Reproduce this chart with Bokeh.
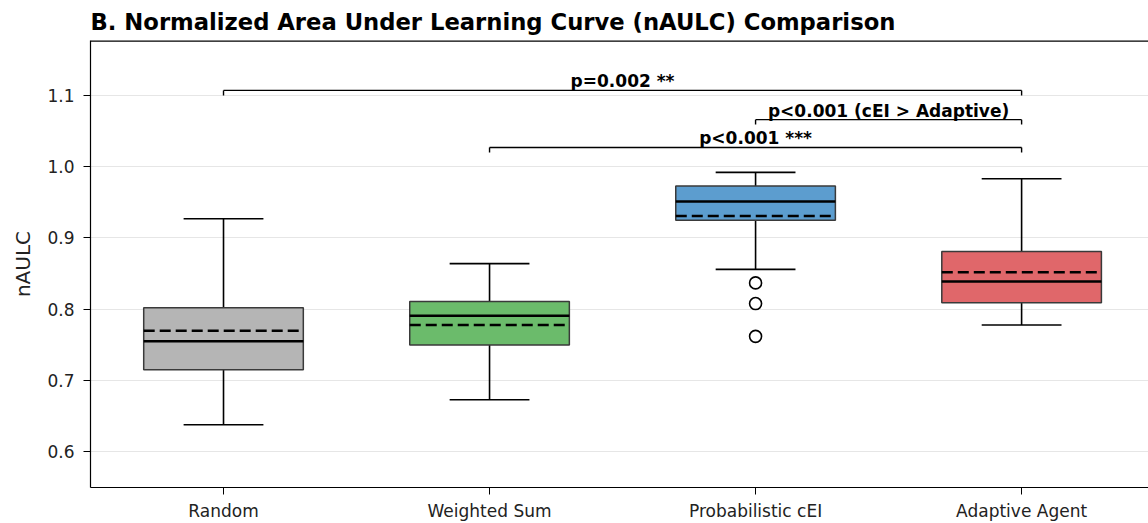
from bokeh.plotting import figure
from bokeh.models import FixedTicker, ColumnDataSource, Range1d, Span
from bokeh.core.properties import value
from bokeh.embed import file_html
from bokeh.resources import INLINE

# ---- data ----
categories = ["Random", "Weighted Sum", "Probabilistic cEI", "Adaptive Agent"]
whisker_low = [0.638, 0.673, 0.856, 0.778]
q1 = [0.715, 0.750, 0.925, 0.809]
median = [0.755, 0.791, 0.951, 0.839]
mean = [0.770, 0.778, 0.931, 0.852]
q3 = [0.802, 0.811, 0.973, 0.881]
whisker_high = [0.927, 0.864, 0.992, 0.983]
outlier_group = ["Probabilistic cEI", "Probabilistic cEI", "Probabilistic cEI"]
outlier_values = [0.837, 0.808, 0.762]
box_colors = ["#b5b5b5", "#6bbb6b", "#5c9dcf", "#e0676a"]

sig_from = ["Random", "Probabilistic cEI", "Weighted Sum"]
sig_to = ["Adaptive Agent", "Adaptive Agent", "Adaptive Agent"]
sig_labels = ["p=0.002 **", "p<0.001 (cEI > Adaptive)", "p<0.001 ***"]
sig_heights = [1.107, 1.066, 1.027]

y_ticks = [0.6, 0.7, 0.8, 0.9, 1.0, 1.1]

FONT = "DejaVu Sans"
pos = {c: i + 1 for i, c in enumerate(categories)}
xs = [pos[c] for c in categories]
half_box = 0.3
half_cap = 0.15
Y0, Y1 = 0.55, 1.177

p = figure(width=1148, height=523, x_range=Range1d(0.5, 4.477), y_range=Range1d(Y0, Y1),
           output_backend="svg", toolbar_location=None,
           title="B. Normalized Area Under Learning Curve (nAULC) Comparison",
           min_border_left=90, min_border_right=0, min_border_top=40, min_border_bottom=35)
p.title.text_font = FONT
p.title.text_font_size = "22.7px"
p.title.text_font_style = "bold"
p.title.text_color = "black"
p.title.align = "left"
p.title.offset = 0
p.title.standoff = 11

p.outline_line_color = None
p.background_fill_color = "white"
p.border_fill_color = "white"
p.add_layout(Span(location=Y1, dimension="width", line_color="black", line_width=2.4))

p.xgrid.visible = False
p.ygrid.ticker = FixedTicker(ticks=y_ticks)
p.ygrid.grid_line_color = "#e6e6e6"
p.ygrid.grid_line_width = 1

p.yaxis.ticker = FixedTicker(ticks=y_ticks)
p.yaxis.major_label_overrides = {t: f"{t:.1f}" for t in y_ticks}
p.xaxis.ticker = FixedTicker(ticks=xs)
p.xaxis.major_label_overrides = {pos[c]: c for c in categories}
for ax in (p.xaxis, p.yaxis):
    ax.major_label_text_font = FONT
    ax.major_label_text_font_size = "17px"
    ax.major_label_text_color = "#222222"
    ax.major_tick_out = 7
    ax.major_tick_in = 0
    ax.minor_tick_out = 0
    ax.minor_tick_in = 0
    ax.axis_line_color = "black"
    ax.axis_line_width = 1.2
    ax.major_tick_line_color = "black"
    ax.major_label_standoff = 6
p.yaxis.major_label_standoff = 9
p.yaxis.axis_label = "nAULC"
p.yaxis.axis_label_text_font = FONT
p.yaxis.axis_label_text_font_size = "20px"
p.yaxis.axis_label_text_font_style = "normal"
p.yaxis.axis_label_text_color = "#222222"
p.yaxis.axis_label_standoff = 9

src = ColumnDataSource(dict(
    x=xs, left=[x - half_box for x in xs], right=[x + half_box for x in xs],
    cl=[x - half_cap for x in xs], cr=[x + half_cap for x in xs],
    lo=whisker_low, q1=q1, med=median, mean=mean, q3=q3, hi=whisker_high, color=box_colors))

# whiskers
p.segment(x0="x", y0="q3", x1="x", y1="hi", source=src, line_color="black", line_width=1.6)
p.segment(x0="x", y0="q1", x1="x", y1="lo", source=src, line_color="black", line_width=1.6)
p.segment(x0="cl", y0="hi", x1="cr", y1="hi", source=src, line_color="black", line_width=1.6)
p.segment(x0="cl", y0="lo", x1="cr", y1="lo", source=src, line_color="black", line_width=1.6)
# boxes
p.quad(left="left", right="right", bottom="q1", top="q3", source=src,
       fill_color="color", fill_alpha=1.0, line_color="#3a3a3a", line_width=1.5)
# median & mean
p.segment(x0="left", y0="med", x1="right", y1="med", source=src, line_color="black", line_width=2.5)
p.segment(x0="left", y0="mean", x1="right", y1="mean", source=src, line_color="black",
          line_width=2.5, line_dash="11 5")
# outliers
p.scatter(x=[pos[g] for g in outlier_group], y=outlier_values, marker="circle", size=12,
          fill_color="white", line_color="black", line_width=1.6)

# significance brackets
tick_len = 0.007
bx0, by0, bx1, by1 = [], [], [], []
tx, ty = [], []
for a, b, h in zip(sig_from, sig_to, sig_heights):
    xa, xb = pos[a], pos[b]
    bx0 += [xa, xa, xb]
    bx1 += [xb, xa, xb]
    by0 += [h, h, h]
    by1 += [h, h - tick_len, h - tick_len]
    tx.append((xa + xb) / 2)
    ty.append(h)
p.segment(x0=bx0, y0=by0, x1=bx1, y1=by1, line_color="black", line_width=1.4)
p.text(x=tx, y=ty, text=sig_labels, text_font=value(FONT), text_font_size="17px",
       text_font_style="bold", text_align="center", text_baseline="bottom",
       text_color="black", y_offset=1)

open("out.html", "w").write(file_html(p, INLINE))
